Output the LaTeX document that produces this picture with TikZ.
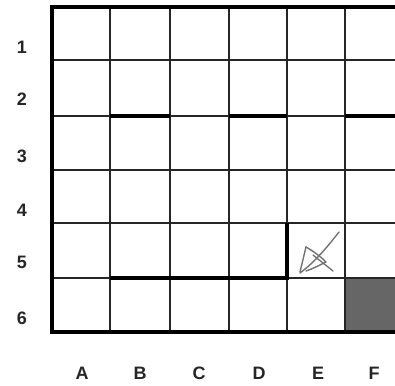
\documentclass[tikz,border=0pt]{standalone}
\usepackage{fontspec}
\setmainfont{Liberation Sans}
\begin{document}
\begin{tikzpicture}[x=1pt,y=-1pt,
  thin grid/.style={line width=2.2pt,black!85},
  thick grid/.style={line width=4.4pt,black},
  lab/.style={font=\bfseries\fontsize{18}{18}\selectfont,inner sep=0pt,text=black!85},
  scribble/.style={line width=1.4pt,black!55,line cap=round,line join=round}]
\useasboundingbox (0,0) rectangle (395,385);
\clip (0,0) rectangle (395,385);
% shaded cell F6
\fill[black!60] (345,278) rectangle (400,332);
% thin grid lines
\foreach \x in {110,170,229,287,345} \draw[thin grid] (\x,7) -- (\x,332);
\foreach \y in {60,116,170,223,278} \draw[thin grid] (52,\y) -- (400,\y);
% outer frame
\draw[line width=3.4pt] (52,7) -- (400,7);
\draw[line width=3.4pt] (52,332) -- (400,332);
\draw[line width=4.6pt] (52,5.3) -- (52,333.7);
% thick walls
\draw[thick grid] (110,116) -- (170,116);
\draw[thick grid] (229,116) -- (287,116);
\draw[thick grid] (345,116) -- (400,116);
\draw[thick grid] (110,278) -- (287,278);
\draw[thick grid] (287,223) -- (287,280.2);
% scribble in E5
\draw[scribble] (339,232) .. controls (328,246) and (315,262) .. (300,273);
\draw[scribble] (306,247) -- (300,272);
\draw[scribble] (306,247) .. controls (318,254) and (324,260) .. (326,262) .. controls (318,266) and (312,269) .. (306,271);
\draw[scribble] (313,255) -- (333,271);
% row labels
\node[lab] (r1) at (22,47) {1};
\node[lab] (r2) at (22,99) {2};
\node[lab] (r3) at (22,156) {3};
\node[lab] (r4) at (22,210) {4};
\node[lab] (r5) at (22,262) {5};
\node[lab] (r6) at (22,318) {6};
% column labels
\node[lab] (cA) at (82,373) {A};
\node[lab] (cB) at (140,373) {B};
\node[lab] (cC) at (199,373) {C};
\node[lab] (cD) at (259,373) {D};
\node[lab] (cE) at (318,373) {E};
\node[lab] (cF) at (374,373) {F};
\end{tikzpicture}
\end{document}
